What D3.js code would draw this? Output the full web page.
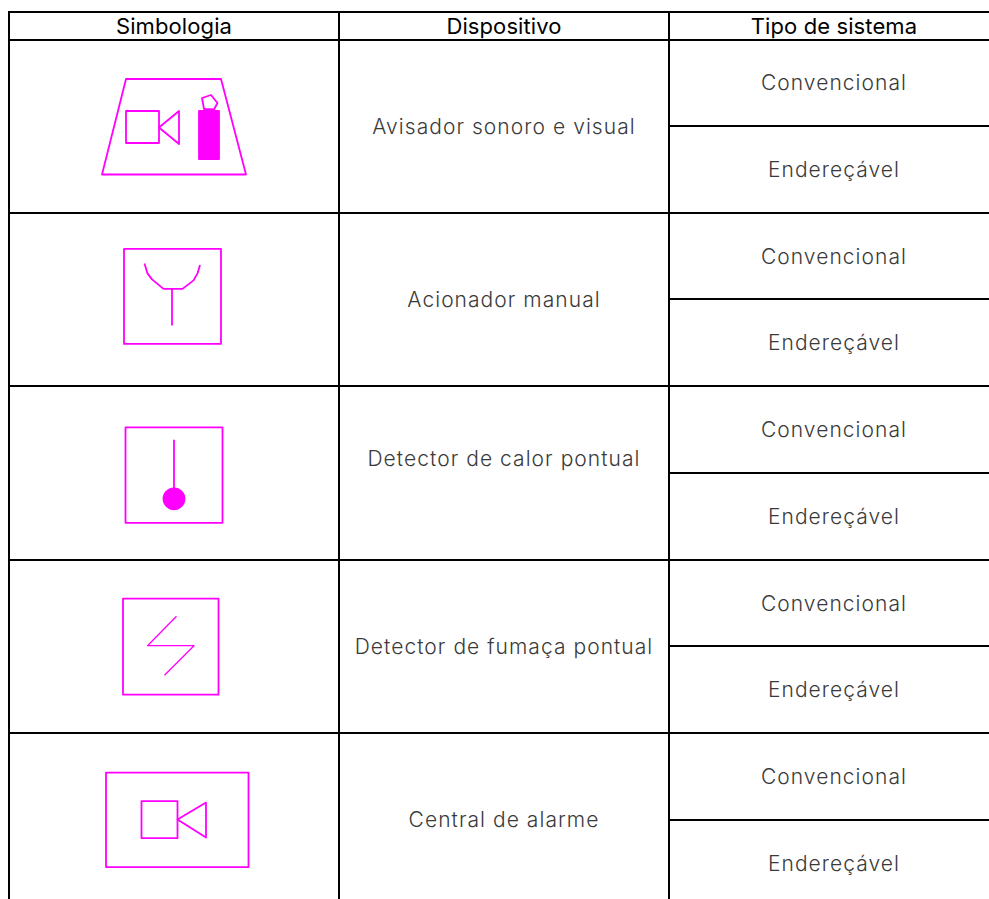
<!DOCTYPE html>
<html>
<head>
<meta charset="utf-8">
<script src="https://cdn.jsdelivr.net/npm/d3@7"></script>
<style>
  html, body { margin: 0; padding: 0; background: #fff; overflow: hidden; }
  text { font-family: Inter, "Open Sans", sans-serif; }
  .head { font-size: 22px; font-weight: 400; fill: #000; letter-spacing: 0.1px; }
  .cell { font-size: 21px; font-weight: 300; fill: #3a3a3a; letter-spacing: 1.05px; }
  .icon { fill: none; stroke: #ff00ff; stroke-width: 1.8; stroke-linejoin: round; }
  .thin { stroke-width: 1.3; }
  .solid { fill: #ff00ff; }
  .grid { stroke: #000; stroke-width: 2; }
</style>
</head>
<body>
<svg id="chart" width="989" height="899"></svg>
<script>
const headers = ['Simbologia', 'Dispositivo', 'Tipo de sistema'];
const devices = [
  'Avisador sonoro e visual',
  'Acionador manual',
  'Detector de calor pontual',
  'Detector de fumaça pontual',
  'Central de alarme'
];
const systems = ['Convencional', 'Endereçável'];

const svg = d3.select('#chart');

// columns and rows of the table
const colX = d3.scaleBand().domain(headers).range([9, 999]);
const rowY = d3.scaleBand().domain(devices).range([39.5, 906.5]);
const subY = d3.scaleBand().domain(systems).range([0, rowY.bandwidth()]);
const colMid = h => colX(h) + colX.bandwidth() / 2;

const hLine = (x1, x2, y) => svg.append('line').attr('class', 'grid')
  .attr('x1', x1).attr('x2', x2).attr('y1', y).attr('y2', y);
const vLine = (x, y1, y2) => svg.append('line').attr('class', 'grid')
  .attr('x1', x).attr('x2', x).attr('y1', y1).attr('y2', y2);

// grid
hLine(9, 989, 12);
hLine(9, 989, 40);
devices.forEach(d => {
  const y = Math.round(rowY(d));
  if (y > 40) hLine(9, 989, y);
  hLine(colX(headers[2]), 989, Math.round(rowY(d) + subY(systems[1]) - 0.15));
});
vLine(9, 11, 899);
vLine(339, 11, 899);
vLine(669, 11, 899);

// text
svg.selectAll('text.head').data(headers).enter().append('text')
  .attr('class', 'head')
  .attr('text-anchor', 'middle')
  .attr('x', d => colMid(d))
  .attr('y', 33.5)
  .text(d => d);

// the heat detector label sits higher in its cell than the others
svg.selectAll('text.device').data(devices).enter().append('text')
  .attr('class', 'cell device')
  .attr('text-anchor', 'middle')
  .attr('x', colMid(headers[1]))
  .attr('y', d => rowY(d) + rowY.bandwidth() / 2 + 7.5 + (d === devices[2] ? -15 : 0))
  .text(d => d);

devices.forEach(d => {
  systems.forEach(s => {
    svg.append('text')
      .attr('class', 'cell')
      .attr('text-anchor', 'middle')
      .attr('x', 834)
      .attr('y', rowY(d) + subY(s) + subY.bandwidth() / 2 + 7.5)
      .text(s);
  });
});

// symbols, each drawn in its own row with the row top as origin
const line = d3.line();
const glyph = d => {
  const g = svg.append('g').attr('transform', `translate(0,${rowY(d)})`);
  return {
    shut: pts => g.append('path').attr('class', 'icon').attr('d', line(pts) + 'Z'),
    open: pts => g.append('path').attr('class', 'icon').attr('d', line(pts)),
    box: (x, y, w, h, solid) => g.append('rect').attr('class', solid ? 'icon solid' : 'icon')
      .attr('x', x).attr('y', y).attr('width', w).attr('height', h),
    dot: (x, y, r) => g.append('circle').attr('class', 'icon solid')
      .attr('cx', x).attr('cy', y).attr('r', r)
  };
};

const horn = glyph(devices[0]);
horn.shut([[126, 39.5], [221, 39.5], [246, 135], [102, 135]]);
horn.box(126, 71.5, 33, 32);
horn.shut([[159, 88], [179, 71.5], [179, 104.5]]);
horn.box(199, 71.5, 20, 48, true);
horn.shut([[202, 58.5], [211, 55.5], [217.5, 63.5], [214, 70], [204, 69.5]]);

const manual = glyph(devices[1]);
manual.box(124, 36, 97, 95);
manual.open([[144.5, 50.5], [147.5, 60.5], [152, 66.5], [163.5, 76], [182.5, 76], [193.5, 67.5], [197.5, 60.5], [200, 52]]);
manual.open([[172, 76], [172, 112.5]]);

const heat = glyph(devices[2]);
heat.box(125.5, 41, 97, 95.5);
heat.open([[174, 53.5], [174, 103.5]]);
heat.dot(174, 112.5, 10.5);

const smoke = glyph(devices[3]);
smoke.box(123, 39, 95.5, 96);
smoke.open([[176.5, 56.5], [147.5, 86], [194, 86], [164.5, 115.5]]).classed('thin', true);

const panel = glyph(devices[4]);
panel.box(106, 39.5, 142.5, 94.5);
panel.box(141.5, 68, 36, 37);
panel.shut([[177.5, 86.5], [206, 69.5], [206, 104.5]]);
</script>
</body>
</html>
